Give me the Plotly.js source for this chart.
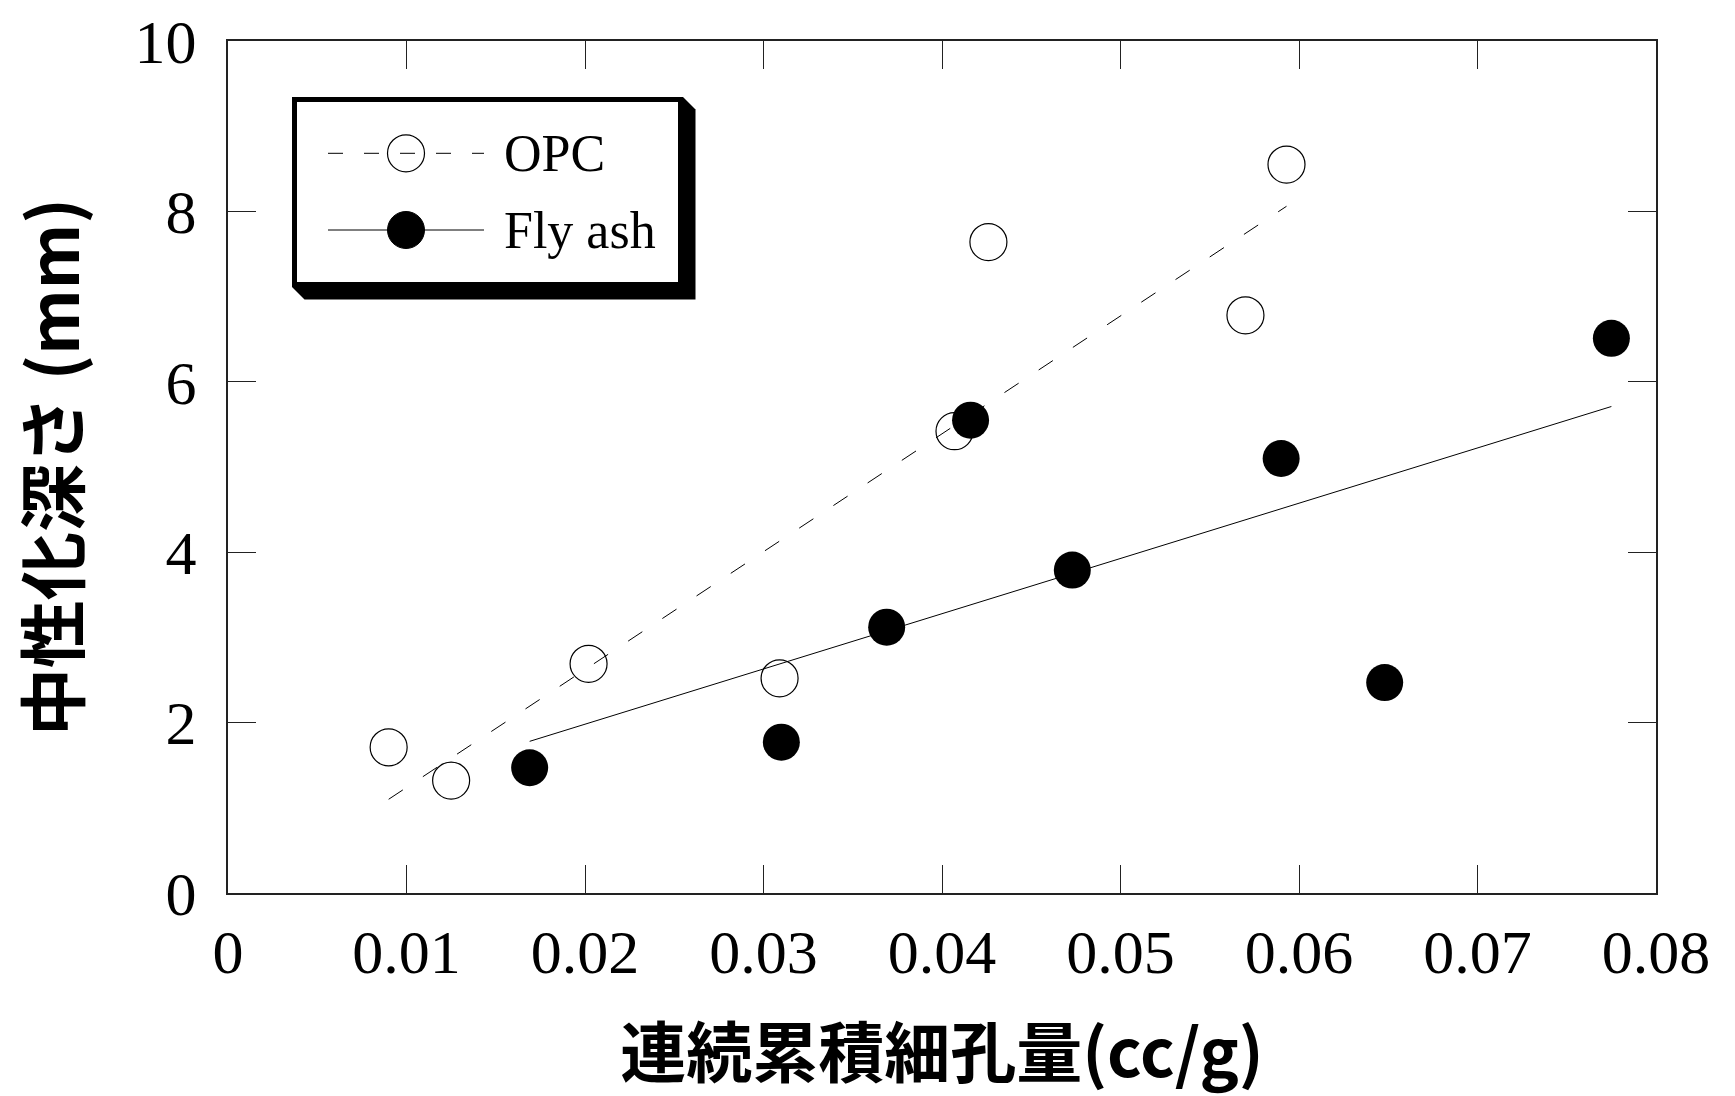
<!DOCTYPE html>
<html>
<head>
<meta charset="utf-8">
<script src="https://cdn.plot.ly/plotly-3.0.1.min.js"></script>
<style>html,body{margin:0;padding:0;background:#fff;}#chart{width:1735px;height:1096px;}</style>
</head>
<body>
<div id="chart"></div>
<script>
// ---- data ----
const opcX = [0.0090, 0.0125, 0.0202, 0.0309, 0.0407, 0.0426, 0.0570, 0.0593];
const opcY = [1.71, 1.32, 2.69, 2.52, 5.42, 7.64, 6.78, 8.55];
const flyX = [0.0169, 0.0310, 0.0369, 0.0416, 0.0473, 0.0590, 0.0648, 0.0775];
const flyY = [1.47, 1.77, 3.12, 5.55, 3.79, 5.10, 2.47, 6.51];
// trend lines (end points)
const opcFitX = [0.0090, 0.0593];
const opcFitY = [1.10, 8.06];
const flyFitX = [0.0169, 0.0775];
const flyFitY = [1.78, 5.71];
const xTickVals = [0, 0.01, 0.02, 0.03, 0.04, 0.05, 0.06, 0.07, 0.08];
const xTickText = ['0', '0.01', '0.02', '0.03', '0.04', '0.05', '0.06', '0.07', '0.08'];
const yTickVals = [0, 2, 4, 6, 8, 10];
const seriesNames = ['OPC', 'Fly ash'];
const xTitle = '連続累積細孔量(cc/g)';
const yTitle = '中性化深さ (mm)';

// ---- layout geometry ----
const W = 1735, H = 1096;
const L = 228, R = 1656, T = 41, B = 893;
const pw = R - L, ph = B - T;
const px = x => (x - L) / pw;
const py = y => (B - y) / ph;

const serif = 'Liberation Serif, Times New Roman, serif';
const cjk = 'Noto Sans CJK JP, sans-serif';

const traces = [
  {x: opcFitX, y: opcFitY, mode: 'lines', line: {color: '#000', width: 1, dash: '17px,24px'}, showlegend: false, hoverinfo: 'skip'},
  {x: flyFitX, y: flyFitY, mode: 'lines', line: {color: '#000', width: 1}, showlegend: false, hoverinfo: 'skip'},
  {x: opcX, y: opcY, name: seriesNames[0], mode: 'markers', showlegend: false,
   marker: {symbol: 'circle-open', size: 37, color: '#000', line: {width: 1.2, color: '#000'}}},
  {x: flyX, y: flyY, name: seriesNames[1], mode: 'markers', showlegend: false,
   marker: {symbol: 'circle', size: 37, color: '#000'}}
];

// custom legend (box with drop shadow)
const bx0 = 292, bx1 = 683, by0 = 97, by1 = 287, sh = 12.5;
const shadowPath = `M ${px(bx1)},${py(by0)} L ${px(bx1+sh)},${py(by0+sh)} L ${px(bx1+sh)},${py(by1+sh)} L ${px(bx0+sh)},${py(by1+sh)} L ${px(bx0)},${py(by1)} Z`;
const rowY = [153.3, 230];
const lineX0 = 328, lineX1 = 484, mkX = 406, txtX = 502, r = 18.5;

const shapes = [
  {type: 'path', xref: 'paper', yref: 'paper', path: shadowPath, fillcolor: '#000', line: {width: 0}, layer: 'above'},
  {type: 'rect', xref: 'paper', yref: 'paper', x0: px(bx0+2.5), x1: px(bx1-2.5), y0: py(by0+2.5), y1: py(by1-2.5),
   fillcolor: '#fff', line: {color: '#000', width: 5}, layer: 'above'},
  {type: 'line', xref: 'paper', yref: 'paper', x0: px(lineX0), x1: px(lineX1), y0: py(rowY[0]), y1: py(rowY[0]),
   line: {color: '#000', width: 1, dash: '15px,21px'}, layer: 'above'},
  {type: 'circle', xref: 'paper', yref: 'paper', xsizemode: 'pixel', ysizemode: 'pixel',
   xanchor: px(mkX), yanchor: py(rowY[0]), x0: -r, x1: r, y0: -r, y1: r,
   fillcolor: 'rgba(0,0,0,0)', line: {color: '#000', width: 1.2}, layer: 'above'},
  {type: 'line', xref: 'paper', yref: 'paper', x0: px(lineX0), x1: px(lineX1), y0: py(rowY[1]), y1: py(rowY[1]),
   line: {color: '#000', width: 1}, layer: 'above'},
  {type: 'circle', xref: 'paper', yref: 'paper', xsizemode: 'pixel', ysizemode: 'pixel',
   xanchor: px(mkX), yanchor: py(rowY[1]), x0: -r, x1: r, y0: -r, y1: r,
   fillcolor: '#000', line: {color: '#000', width: 1}, layer: 'above'}
];

const annotations = seriesNames.map((n, i) => ({
  xref: 'paper', yref: 'paper', x: px(txtX), y: py(rowY[i]), xanchor: 'left', yanchor: 'middle',
  text: n, showarrow: false, font: {family: serif, size: 52, color: '#000'}
}));

const axisCommon = {
  showgrid: false, zeroline: false, showline: true, linecolor: '#222', linewidth: 2,
  mirror: 'ticks', ticks: 'inside', ticklen: 28, tickwidth: 1, tickcolor: '#222',
  tickfont: {family: serif, size: 62, color: '#000'}
};

const layout = {
  width: W, height: H,
  margin: {l: L, r: W - R, t: T, b: H - B, pad: 0},
  paper_bgcolor: '#fff', plot_bgcolor: '#fff',
  showlegend: false,
  xaxis: Object.assign({}, axisCommon, {
    range: [0, 0.08], tickmode: 'array', tickvals: xTickVals, ticktext: xTickText,
    ticklabelstandoff: 4,
    title: {text: xTitle + '\u2002', font: {family: cjk, size: 66, weight: 'bold', color: '#000'}, standoff: 60}
  }),
  yaxis: Object.assign({}, axisCommon, {
    range: [0, 10], tickmode: 'array', tickvals: yTickVals,
    ticklabelstandoff: 17,
    title: {text: '\u2002' + yTitle, font: {family: cjk, size: 68, weight: 'bold', color: '#000'}, standoff: 57}
  }),
  shapes: shapes,
  annotations: annotations
};

Plotly.newPlot('chart', traces, layout, {displayModeBar: false, staticPlot: true});
</script>
</body>
</html>
